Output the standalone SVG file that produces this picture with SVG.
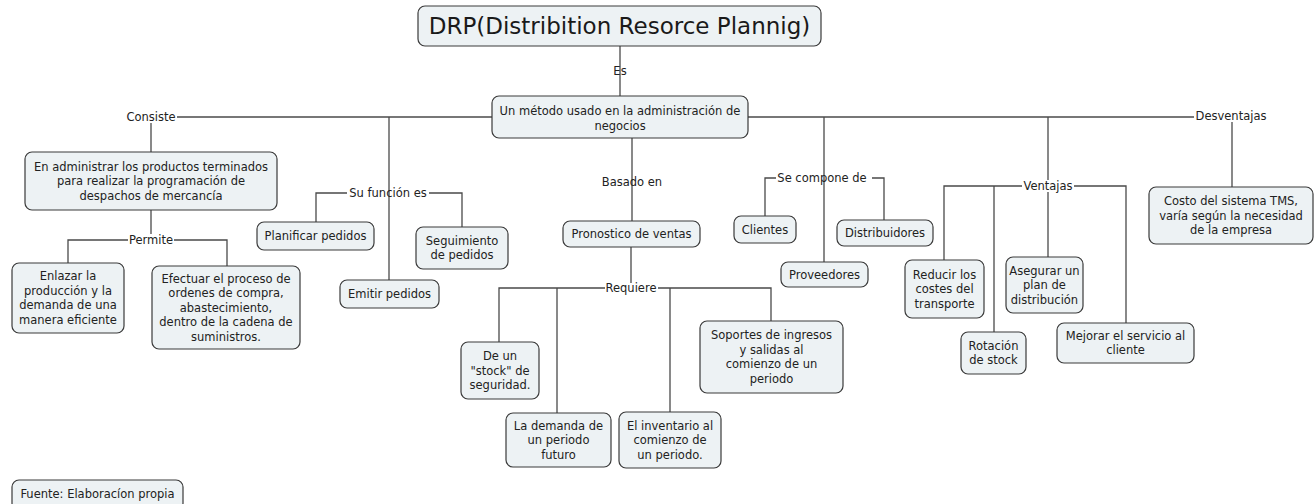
<svg xmlns="http://www.w3.org/2000/svg" width="1315" height="504" viewBox="0 0 1315 504">
<style>
.n rect{fill:#edf2f4;stroke:#3a3a3a;stroke-width:1.2}
text{font-family:"DejaVu Sans","Liberation Sans",sans-serif;font-size:11.5px;fill:#222;text-anchor:middle}
.t{font-size:23px;fill:#1a1a1a}
#conn line,#conn polyline{stroke:#4a4a4a;stroke-width:1.3;fill:none}
</style>
<rect width="1315" height="504" fill="#ffffff"/>
<g id="conn">
<line x1="620" y1="46" x2="620" y2="96"/>
<line x1="177" y1="117" x2="492" y2="117"/>
<line x1="748" y1="117" x2="1194" y2="117"/>
<line x1="151" y1="123" x2="151" y2="152"/>
<line x1="389" y1="117" x2="389" y2="280"/>
<polyline points="347,193 316,193 316,222"/>
<polyline points="429,193 462,193 462,227"/>
<line x1="151" y1="210" x2="151" y2="234"/>
<polyline points="128,240 68,240 68,263"/>
<polyline points="174,240 227,240 227,266"/>
<line x1="632" y1="138" x2="632" y2="221"/>
<line x1="631" y1="247" x2="631" y2="283"/>
<polyline points="605,288 499,288 499,342"/>
<line x1="557" y1="288" x2="557" y2="413"/>
<polyline points="658,288 771,288 771,321"/>
<line x1="670" y1="288" x2="670" y2="412"/>
<line x1="824" y1="117" x2="824" y2="262"/>
<polyline points="776,178 765,178 765,216"/>
<polyline points="872,178 884,178 884,220"/>
<line x1="1048" y1="117" x2="1048" y2="180"/>
<line x1="1048" y1="192" x2="1048" y2="257"/>
<polyline points="1022,186 944,186 944,260"/>
<line x1="994" y1="186" x2="994" y2="332"/>
<polyline points="1074,186 1126,186 1126,323"/>
<line x1="1232" y1="122" x2="1232" y2="187"/>
</g>
<g id="labels">
<text x="620" y="75">Es</text>
<text x="151" y="121">Consiste</text>
<text x="1231" y="120">Desventajas</text>
<text x="151" y="244">Permite</text>
<text x="388" y="197">Su función es</text>
<text x="632" y="186">Basado en</text>
<text x="631" y="292">Requiere</text>
<text x="822" y="182">Se compone de </text>
<text x="1048" y="190">Ventajas</text>
</g>
<g id="title" class="n"><rect x="418" y="6" width="403" height="40" rx="7"/><text class="t" x="619.5" y="34">DRP(Distribition Resorce Plannig)</text></g>
<g id="metodo" class="n"><rect x="492" y="96" width="256" height="42" rx="7"/><text x="620" y="114.5">Un método usado en la administración de</text><text x="620" y="129.5">negocios</text></g>
<g id="administrar" class="n"><rect x="25" y="152" width="252" height="58" rx="7"/><text x="151" y="170.5">En administrar los productos terminados</text><text x="151" y="185">para realizar la programación de</text><text x="151" y="199.5">despachos de mercancía</text></g>
<g id="enlazar" class="n"><rect x="12" y="263" width="112" height="70" rx="7"/><text x="68" y="280.3">Enlazar la</text><text x="68" y="294.8">producción y la</text><text x="68" y="309.3">demanda de una</text><text x="68" y="323.8">manera eficiente</text></g>
<g id="efectuar" class="n"><rect x="152" y="266" width="148" height="83" rx="7"/><text x="226" y="282.5">Efectuar el proceso de</text><text x="226" y="297">ordenes de compra,</text><text x="226" y="311.5">abastecimiento,</text><text x="226" y="326">dentro de la cadena de</text><text x="226" y="340.5">suministros.</text></g>
<g id="planificar" class="n"><rect x="257" y="222" width="117" height="28" rx="7"/><text x="315.5" y="240">Planificar pedidos</text></g>
<g id="seguimiento" class="n"><rect x="416" y="227" width="92" height="42" rx="7"/><text x="462" y="244.8">Seguimiento</text><text x="462" y="259.3">de pedidos</text></g>
<g id="emitir" class="n"><rect x="340" y="280" width="99" height="28" rx="7"/><text x="389.5" y="298">Emitir pedidos</text></g>
<g id="pronostico" class="n"><rect x="563" y="221" width="137" height="26" rx="7"/><text x="631.5" y="238">Pronostico de ventas</text></g>
<g id="stock" class="n"><rect x="461" y="342" width="78" height="57" rx="7"/><text x="500" y="360">De un</text><text x="500" y="374.5">"stock" de</text><text x="500" y="389">seguridad.</text></g>
<g id="demanda" class="n"><rect x="506" y="413" width="105" height="54" rx="7"/><text x="558.5" y="429.5">La demanda de</text><text x="558.5" y="444">un periodo</text><text x="558.5" y="458.5">futuro</text></g>
<g id="inventario" class="n"><rect x="619" y="412" width="102" height="56" rx="7"/><text x="670" y="429.5">El inventario al</text><text x="670" y="444">comienzo de</text><text x="670" y="458.5">un periodo.</text></g>
<g id="soportes" class="n"><rect x="700" y="321" width="143" height="72" rx="7"/><text x="771.5" y="339.3">Soportes de ingresos</text><text x="771.5" y="353.8">y salidas al</text><text x="771.5" y="368.3">comienzo de un</text><text x="771.5" y="382.8">periodo</text></g>
<g id="clientes" class="n"><rect x="734" y="216" width="62" height="27" rx="7"/><text x="765" y="233.5">Clientes</text></g>
<g id="distribuidores" class="n"><rect x="837" y="220" width="96" height="26" rx="7"/><text x="885" y="237">Distribuidores</text></g>
<g id="proveedores" class="n"><rect x="781" y="262" width="87" height="25" rx="7"/><text x="824.5" y="278.5">Proveedores</text></g>
<g id="reducir" class="n"><rect x="905" y="260" width="79" height="58" rx="7"/><text x="944.5" y="278.5">Reducir los</text><text x="944.5" y="293">costes del</text><text x="944.5" y="307.5">transporte</text></g>
<g id="rotacion" class="n"><rect x="961" y="332" width="65" height="42" rx="7"/><text x="993.5" y="349.8">Rotación</text><text x="993.5" y="364.3">de stock</text></g>
<g id="asegurar" class="n"><rect x="1006" y="257" width="77" height="56" rx="7"/><text x="1044.5" y="274.5">Asegurar un</text><text x="1044.5" y="289">plan de</text><text x="1044.5" y="303.5">distribución</text></g>
<g id="mejorar" class="n"><rect x="1057" y="323" width="137" height="40" rx="7"/><text x="1125.5" y="339.8">Mejorar el servicio al</text><text x="1125.5" y="354.3">cliente</text></g>
<g id="costo" class="n"><rect x="1149" y="187" width="164" height="57" rx="7"/><text x="1231" y="205">Costo del sistema TMS,</text><text x="1231" y="219.5">varía según la necesidad</text><text x="1231" y="234">de la empresa</text></g>
<g id="fuente" class="n"><rect x="12" y="480" width="171" height="30" rx="7"/><text x="97.5" y="498">Fuente: Elaboracíon propia</text></g>
</svg>
